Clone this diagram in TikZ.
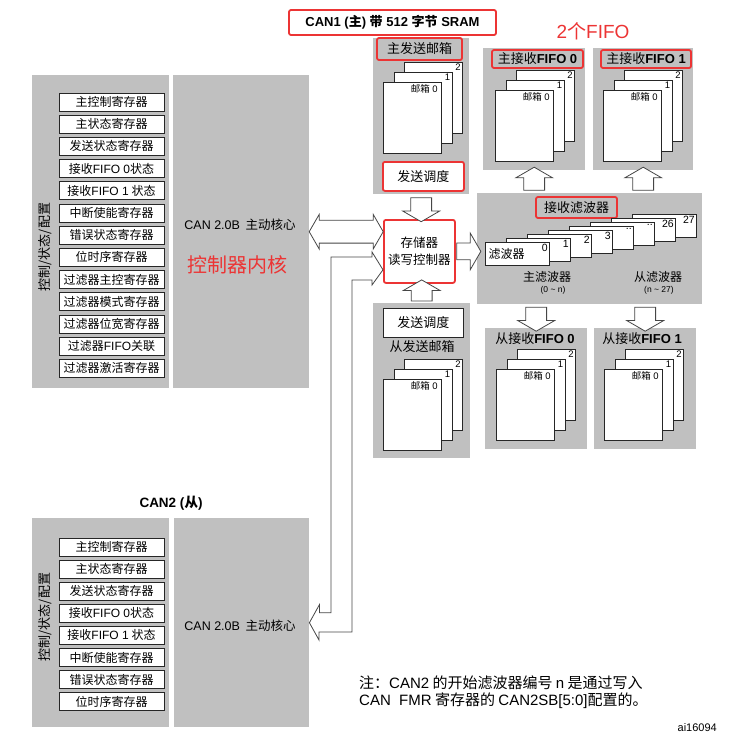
\documentclass[tikz,border=0pt]{standalone}
\usepackage{fontspec}
\setmainfont{Noto Sans CJK SC}
\newfontfamily\lat{Liberation Sans}
\usetikzlibrary{shapes.arrows, calc}

\definecolor{panelgray}{RGB}{192,192,192}
\definecolor{markred}{RGB}{236,52,52}
\definecolor{lineg}{RGB}{70,70,70}

\tikzset{
    panel/.style={fill=panelgray, draw=none, anchor=north west, inner sep=0},
    reg/.style={draw=black!85, fill=white, line width=0.9pt, minimum width=105, minimum height=18, inner sep=0, font=\fontsize{12}{14}\selectfont},
    page/.style={draw=black!85, fill=white, line width=0.9pt, anchor=north west, inner sep=0},
    pglbl/.style={anchor=north east, inner sep=2, font=\lat\fontsize{9.5}{10}\selectfont},
    sched/.style={draw=black!85, fill=white, line width=0.9pt, anchor=north west, minimum width=80, minimum height=29, inner sep=0, font=\fontsize{13}{15}\selectfont},
    redbox/.style={draw=markred, line width=1.8pt, rounded corners=2pt},
    ttl/.style={font=\fontsize{13}{15}\selectfont, inner sep=0},
    arrblk/.style={single arrow, draw=lineg, fill=white, line width=0.8pt, inner xsep=0, inner ysep=10, single arrow head extend=8, single arrow tip angle=120},
    arrbus/.style={double arrow, draw=lineg, fill=white, line width=0.8pt, inner xsep=0, inner ysep=11, double arrow head extend=6, double arrow tip angle=120},
    busline/.style={draw=lineg, line width=0.8pt}
}

\begin{document}
\begin{tikzpicture}[x=1pt, y=-1pt]
    \useasboundingbox (0,0) rectangle (735,749);

    % CAN1 (主)
    \node[panel, minimum width=137, minimum height=313] (ctl1) at (32,75) {};
    \node[panel, minimum width=136, minimum height=313] (core1) at (173,75) {};
    \node[rotate=90, font=\fontsize{13}{15}\selectfont] (lbl1) at (45,247) {控制/状态/配置};
    \foreach \t [count=\i from 0] in {主控制寄存器, 主状态寄存器, 发送状态寄存器, 接收{\lat FIFO 0}状态, 接收{\lat FIFO 1} 状态, 中断使能寄存器, 错误状态寄存器, 位时序寄存器, 过滤器主控寄存器, 过滤器模式寄存器, 过滤器位宽寄存器, 过滤器{\lat FIFO}关联, 过滤器激活寄存器}
        \node[reg] (reg1-\i) at (111.5,102+22.2*\i) {\t};
    \node[font=\fontsize{12.5}{14}\selectfont] (core1txt) at (240,225) {{\lat CAN 2.0B}\ \ 主动核心};
    \node[text=markred, font=\fontsize{20}{22}\selectfont] (kern) at (237,265) {控制器内核};
    \node[redbox, minimum width=207, minimum height=25, font=\bfseries\fontsize{13}{15}\selectfont] (can1) at (392.5,22.5) {{\lat CAN1 (}主{\lat ) }带{\lat\ 512 }字节{\lat\ SRAM}};
    \node[text=markred, font=\fontsize{19}{21}\selectfont] (twofifo) at (593,31) {{\lat 2}个{\lat FIFO}};

    % CAN2 (从)
    \node[font=\bfseries\fontsize{13.5}{15}\selectfont] (can2) at (171,503) {{\lat CAN2 (}从{\lat )}};
    \node[panel, minimum width=137, minimum height=209] (ctl2) at (32,518) {};
    \node[panel, minimum width=135, minimum height=209] (core2) at (174,518) {};
    \node[rotate=90, font=\fontsize{13}{15}\selectfont] (lbl2) at (45,617) {控制/状态/配置};
    \foreach \t [count=\i from 0] in {主控制寄存器, 主状态寄存器, 发送状态寄存器, 接收{\lat FIFO 0}状态, 接收{\lat FIFO 1} 状态, 中断使能寄存器, 错误状态寄存器, 位时序寄存器}
        \node[reg] (reg2-\i) at (111.5,547+22.1*\i) {\t};
    \node[font=\fontsize{12.5}{14}\selectfont] (core2txt) at (240,626) {{\lat CAN 2.0B}\ \ 主动核心};

    % 邮箱和FIFO
    \node[panel, minimum width=96, minimum height=156] (txm) at (373,38) {};
    \node[panel, minimum width=97, minimum height=155] (txs) at (373,303) {};
    \node[panel, minimum width=102, minimum height=122] (rxm0) at (483,48) {};
    \node[panel, minimum width=100, minimum height=122] (rxm1) at (593,48) {};
    \node[panel, minimum width=102, minimum height=121] (rxs0) at (485,328) {};
    \node[panel, minimum width=102, minimum height=121] (rxs1) at (594,328) {};
    \node[ttl, redbox, minimum width=85, minimum height=22] (txmttl) at (419.5,49) {主发送邮箱};
    \node[ttl, redbox, minimum width=91, minimum height=18] (rxm0ttl) at (537.5,59) {主接收{\lat\bfseries FIFO 0}};
    \node[ttl, redbox, minimum width=90, minimum height=18] (rxm1ttl) at (646,59) {主接收{\lat\bfseries FIFO 1}};
    \node[ttl] (txsttl) at (422,347) {从发送邮箱};
    \node[ttl] (rxs0ttl) at (535,339) {从接收{\lat\bfseries FIFO 0}};
    \node[ttl] (rxs1ttl) at (642,339) {从接收{\lat\bfseries FIFO 1}};
    \foreach \bx/\by/\nm in {383/82/txm, 383/379/txs, 495/90/rxm0, 603/90/rxm1, 496/369/rxs0, 604/369/rxs1} {
        \node[page, minimum width=58, minimum height=71] (\nm-p2) at (\bx+21,\by-20) {};
        \node[pglbl] at (\nm-p2.north east) {2};
        \node[page, minimum width=58, minimum height=71] (\nm-p1) at (\bx+10.5,\by-10) {};
        \node[pglbl] at (\nm-p1.north east) {1};
        \node[page, minimum width=58, minimum height=71] (\nm-p0) at (\bx,\by) {};
        \node[pglbl, xshift=-2] at (\nm-p0.north east) {{\normalfont 邮箱} 0};
    }
    \node[sched, draw=markred, line width=1.8pt, rounded corners=2pt, minimum width=81] (schedm) at (382,161) {发送调度};
    \node[sched] (scheds) at (383,308) {发送调度};

    % 存储器读写控制器
    \node[draw=markred, line width=1.8pt, rounded corners=2pt, fill=white, anchor=north west, minimum width=71, minimum height=63, inner sep=0, align=center, font=\fontsize{12.5}{17}\selectfont] (mem) at (383,219) {存储器\\读写控制器};

    % 接收滤波器
    \node[panel, minimum width=225, minimum height=111] (filt) at (477,193) {};
    \node[ttl, redbox, minimum width=81, minimum height=21] (filtttl) at (576.5,207.5) {接收滤波器};
    \foreach \i/\t in {7/27, 6/26, 5/.., 4/.., 3/3, 2/2, 1/1, 0/0} {
        \node[page, minimum width=64, minimum height=23] (flt\i) at (485+21*\i,242-4*\i) {};
        \node[pglbl, font=\lat\fontsize{10.5}{11}\selectfont] at (flt\i.north east) {\t};
    }
    \node[anchor=west, font=\fontsize{12}{14}\selectfont] (fltname) at (flt0.west) {滤波器};
    \node[font=\fontsize{12}{14}\selectfont] (fltm) at (547,277) {主滤波器};
    \node[font=\lat\fontsize{8.5}{9}\selectfont] (fltmn) at (553,290) {(0 \textasciitilde{} n)};
    \node[font=\fontsize{12}{14}\selectfont] (flts) at (658,277) {从滤波器};
    \node[font=\lat\fontsize{8.5}{9}\selectfont] (fltsn) at (659,290) {(n \textasciitilde{} 27)};

    % 箭头
    \node[arrbus, minimum height=74] (bus1) at ($(core1.east)!.5!(mem.west |- core1.east)$) {};
    \node[arrblk, rotate=-90, minimum height=24] (txm2mem) at ($(txm.south)!.5!(txm.south |- mem.north)$) {};
    \node[arrblk, rotate=90, minimum height=21] (txs2mem) at ($(txs.north)!.5!(txs.north |- mem.south)$) {};
    \node[arrblk, inner ysep=8, single arrow head extend=10, minimum height=24] (mem2filt) at ($(mem.east)!.5!(filt.west |- mem.east)$) {};
    \foreach \f in {rxm0, rxm1}
        \node[arrblk, rotate=90, minimum height=23] (filt2\f) at ($(\f.south)!.5!(\f.south |- filt.north)$) {};
    \foreach \f in {rxs0, rxs1}
        \node[arrblk, rotate=-90, minimum height=24] (filt2\f) at ($(\f.north)!.5!(\f.north |- filt.south)$) {};
    % CAN2 总线
    \draw[busline] (core2.east) -- ++(10,-18) -- ++(0,8) -| (331,257) -- (372,257) -- ++(0,-5)
        -- ($(mem.south west)+(0,-14)$) -- (372,285) -- (372,280) -| (352,632) -- (319,632) -- ++(0,8) -- cycle;

    % 注
    \node[anchor=north west, align=left, inner sep=0, font=\fontsize{15}{17}\selectfont] (note) at (359,676) {注：{\lat CAN2} 的开始滤波器编号 {\lat n} 是通过写入\\{\lat CAN\ \ FMR} 寄存器的 {\lat CAN2SB[5:0]}配置的。};
    \node[anchor=east, inner sep=0, font=\lat\fontsize{11}{13}\selectfont] (ainum) at (717,728) {ai16094};
\end{tikzpicture}
\end{document}
